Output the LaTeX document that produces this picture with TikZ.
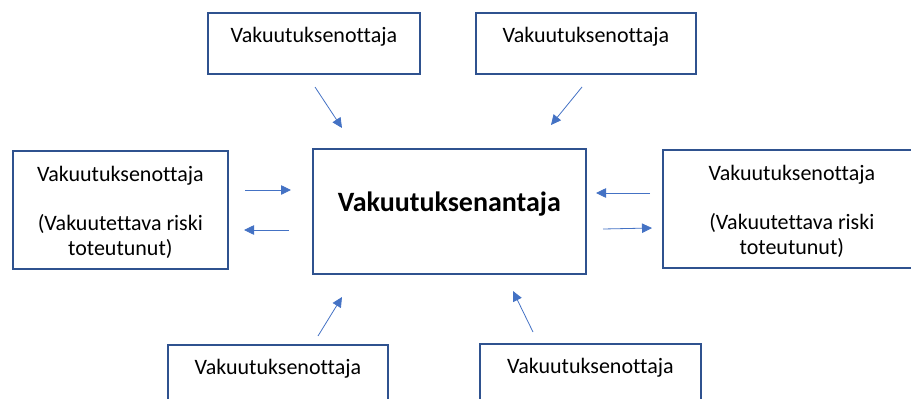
\documentclass[tikz,border=0pt]{standalone}
\usepackage{fontspec}
\setmainfont{Carlito}[Ligatures=NoCommon]
\usetikzlibrary{arrows.meta}
\definecolor{boxblue}{HTML}{2F528F}
\definecolor{arrowblue}{HTML}{4472C4}

\begin{document}
\begin{tikzpicture}[
        x=1pt, y=-1pt,
        party/.style={draw=boxblue, line width=1.7pt, inner sep=0pt, align=center,
            anchor=north west, font=\fontsize{22}{25}\selectfont},
        smallparty/.style={party, text height=29.5pt, text depth=31.5pt},
        sideparty/.style={party, minimum height=118pt},
        insurer/.style={party, minimum width=273pt, text height=63pt, text depth=62pt,
            font=\fontsize{28}{32}\selectfont\bfseries},
        flow/.style={draw=arrowblue, line width=0.8pt, -{Triangle[length=10pt,width=9.5pt]}}
    ]
        \useasboundingbox (0,0) rectangle (911,399);
        \clip (0,0) rectangle (911,399);

        % boxes
        \node[insurer] (insurer) at (312,148) {Vakuutuksenantaja};
        \node[smallparty, minimum width=212pt] (topleft) at (207,12) {Vakuutuksenottaja};
        \node[smallparty, minimum width=220pt] (topright) at (475,12) {Vakuutuksenottaja};
        \node[smallparty, minimum width=220pt] (bottomleft) at (167,344) {Vakuutuksenottaja};
        \node[smallparty, minimum width=221pt] (bottomright) at (479,343) {Vakuutuksenottaja};
        \node[sideparty, minimum width=215pt] (left) at (12,150)
            {\rule{0pt}{21pt}Vakuutuksenottaja\\[24pt](Vakuutettava riski\\toteutunut)};
        \node[sideparty, minimum width=258pt] (right) at (662,149)
            {\rule{0pt}{21pt}Vakuutuksenottaja\\[24pt](Vakuutettava riski\\toteutunut)};

        % arrow ends
        \coordinate (tl-a) at (315,87);  \coordinate (tl-b) at (342,128);
        \coordinate (tr-a) at (582,87);  \coordinate (tr-b) at (551,125);
        \coordinate (l-a) at (245,190);  \coordinate (l-b) at (291,190);
        \coordinate (l-c) at (289,230);  \coordinate (l-d) at (244,230);
        \coordinate (r-a) at (650,193);  \coordinate (r-b) at (596,193);
        \coordinate (r-c) at (603,229);  \coordinate (r-d) at (652,228);
        \coordinate (bl-a) at (318,336); \coordinate (bl-b) at (342,297);
        \coordinate (br-a) at (533,332); \coordinate (br-b) at (513,291);

        % arrows
        \draw[flow] (tl-a) -- (tl-b);
        \draw[flow] (tr-a) -- (tr-b);
        \draw[flow] (l-a) -- (l-b);
        \draw[flow] (l-c) -- (l-d);
        \draw[flow] (r-a) -- (r-b);
        \draw[flow] (r-c) -- (r-d);
        \draw[flow] (bl-a) -- (bl-b);
        \draw[flow] (br-a) -- (br-b);
    \end{tikzpicture}
\end{document}
